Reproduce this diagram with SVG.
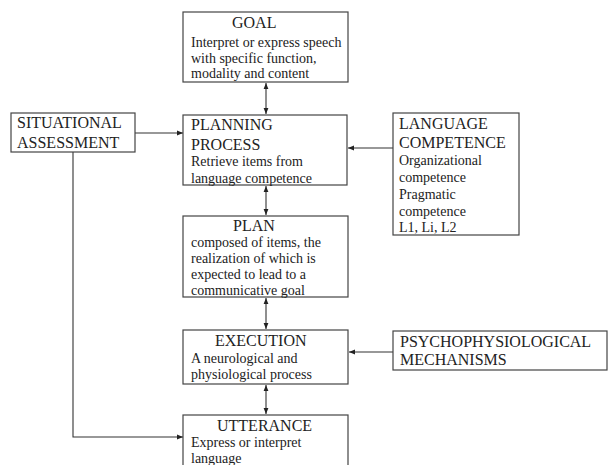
<svg xmlns="http://www.w3.org/2000/svg" width="612" height="465" viewBox="0 0 612 465">
<defs>
<marker id="ah" viewBox="0 0 10 10" refX="10" refY="5" markerWidth="6" markerHeight="6" orient="auto-start-reverse" markerUnits="userSpaceOnUse">
<path d="M0,1 L10,5 L0,9 Z" fill="#222"/>
</marker>
<style>
.box{fill:#fff;stroke:#444;stroke-width:1.2}
.t{font-family:"Liberation Serif",serif;font-size:16px;fill:#222}
.b{font-family:"Liberation Serif",serif;font-size:14px;fill:#222}
.c{fill:none;stroke:#333;stroke-width:1.1}
</style>
</defs>
<rect width="612" height="465" fill="#fff"/>
<g id="connectors">
<line class="c" x1="266" y1="83" x2="266" y2="114" marker-start="url(#ah)" marker-end="url(#ah)"/>
<line class="c" x1="266" y1="186" x2="266" y2="215" marker-start="url(#ah)" marker-end="url(#ah)"/>
<line class="c" x1="266" y1="298" x2="266" y2="329" marker-start="url(#ah)" marker-end="url(#ah)"/>
<line class="c" x1="266" y1="385" x2="266" y2="414" marker-start="url(#ah)" marker-end="url(#ah)"/>
<line class="c" x1="135" y1="133" x2="183" y2="133" marker-end="url(#ah)"/>
<line class="c" x1="393" y1="148" x2="348" y2="148" marker-end="url(#ah)"/>
<line class="c" x1="393" y1="352" x2="349" y2="352" marker-end="url(#ah)"/>
<polyline class="c" points="73,152 73,437 183,437" marker-end="url(#ah)"/>
</g>
<g id="goal">
<rect class="box" x="183" y="12" width="165" height="70"/>
<text class="t" x="232" y="28">GOAL</text>
<text class="b" x="191" y="47">Interpret or express speech</text>
<text class="b" x="191" y="63">with specific function,</text>
<text class="b" x="191" y="78">modality and content</text>
</g>
<g id="situational">
<rect class="box" x="11" y="113" width="124" height="39"/>
<text class="t" x="17" y="128">SITUATIONAL</text>
<text class="t" x="17" y="148">ASSESSMENT</text>
</g>
<g id="planning">
<rect class="box" x="183" y="115" width="164" height="70"/>
<text class="t" x="191" y="130">PLANNING</text>
<text class="t" x="191" y="150">PROCESS</text>
<text class="b" x="191" y="166">Retrieve items from</text>
<text class="b" x="191" y="183">language competence</text>
</g>
<g id="language">
<rect class="box" x="393" y="113" width="126" height="122"/>
<text class="t" x="399" y="129">LANGUAGE</text>
<text class="t" x="399" y="148">COMPETENCE</text>
<text class="b" x="399" y="165">Organizational</text>
<text class="b" x="399" y="182">competence</text>
<text class="b" x="399" y="199">Pragmatic</text>
<text class="b" x="399" y="216">competence</text>
<text class="b" x="399" y="232">L1, Li, L2</text>
</g>
<g id="plan">
<rect class="box" x="183" y="216" width="165" height="81"/>
<text class="t" x="233" y="231">PLAN</text>
<text class="b" x="191" y="247">composed of items, the</text>
<text class="b" x="191" y="263">realization of which is</text>
<text class="b" x="191" y="279">expected to lead to a</text>
<text class="b" x="191" y="295">communicative goal</text>
</g>
<g id="execution">
<rect class="box" x="183" y="330" width="165" height="54"/>
<text class="t" x="215" y="346">EXECUTION</text>
<text class="b" x="191" y="363">A neurological and</text>
<text class="b" x="191" y="379">physiological process</text>
</g>
<g id="psycho">
<rect class="box" x="393" y="331" width="214" height="39"/>
<text class="t" x="400" y="347">PSYCHOPHYSIOLOGICAL</text>
<text class="t" x="400" y="365">MECHANISMS</text>
</g>
<g id="utterance">
<rect class="box" x="183" y="415" width="165" height="60"/>
<text class="t" x="217" y="431">UTTERANCE</text>
<text class="b" x="191" y="447">Express or interpret</text>
<text class="b" x="191" y="463">language</text>
</g>
</svg>
